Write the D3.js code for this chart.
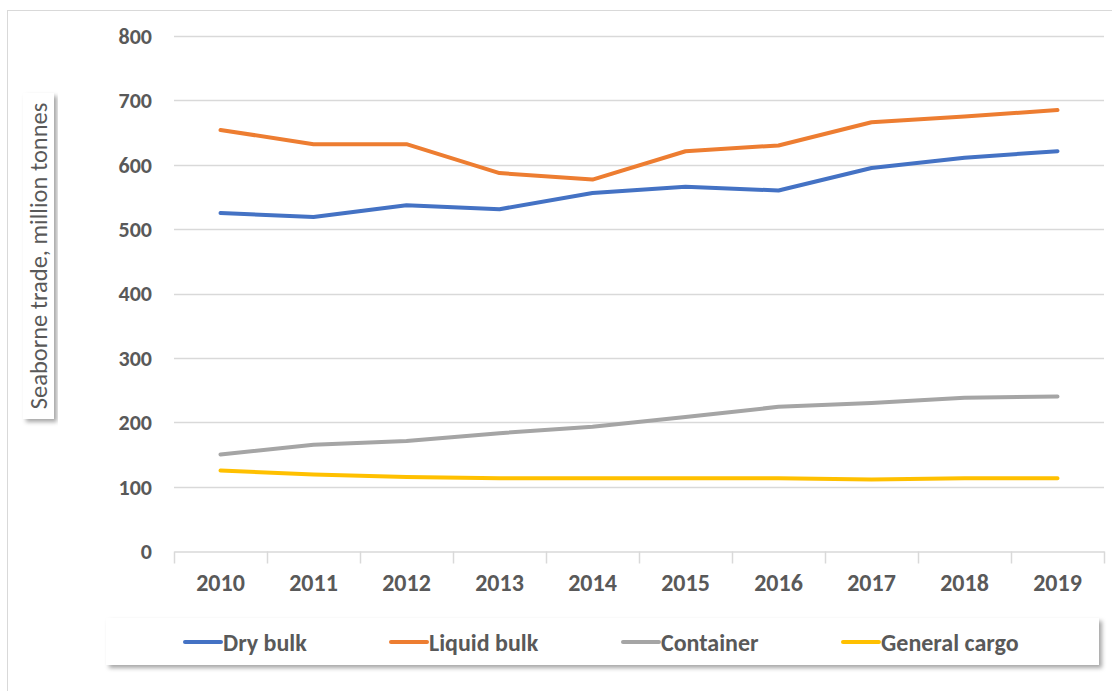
<!DOCTYPE html>
<html>
<head>
<meta charset="utf-8">
<script src="https://cdn.jsdelivr.net/npm/d3@7"></script>
<style>
  body { margin: 0; background: #fff; }
  svg { display: block; }
  text { font-family: Carlito, Lato, "Open Sans", sans-serif; fill: #595959; }
</style>
</head>
<body>
<svg></svg>
<script>
//--Data
const years = ["2010", "2011", "2012", "2013", "2014", "2015", "2016", "2017", "2018", "2019"];
const dryBulk = [525, 519, 537, 531, 556, 566, 560, 595, 611, 621];
const liquidBulk = [654, 632, 632, 587, 577, 621, 630, 666, 675, 685];
const container = [150, 165, 171, 183, 193, 208, 224, 230, 238, 240];
const generalCargo = [125, 119, 115, 113, 113, 113, 113, 111, 113, 113];
const seriesNames = ["Dry bulk", "Liquid bulk", "Container", "General cargo"];
const seriesColors = ["#4472C4", "#ED7D31", "#A5A5A5", "#FFC000"];
const yTicks = [0, 100, 200, 300, 400, 500, 600, 700, 800];

const series = [dryBulk, liquidBulk, container, generalCargo].map((v, i) => ({
  name: seriesNames[i], color: seriesColors[i], values: v
}));

//--Canvas
const W = 1112, H = 691;
const plot = { left: 174, right: 1104, top: 36, bottom: 551 };

const root = d3.select("svg").attr("width", W).attr("height", H);

const defs = root.append("defs");
const shadow = defs.append("filter").attr("id", "shadow")
  .attr("x", "-5%").attr("y", "-20%").attr("width", "115%").attr("height", "160%");
shadow.append("feDropShadow")
  .attr("dx", 3).attr("dy", 3).attr("stdDeviation", 2)
  .attr("flood-color", "#000").attr("flood-opacity", 0.35);

//Outer chart border
root.append("rect")
  .attr("x", 7.5).attr("y", 10.5)
  .attr("width", W).attr("height", H)
  .attr("fill", "none").attr("stroke", "#D9D9D9");

//--Scales
const x = d3.scaleBand().domain(years).range([plot.left, plot.right]);
const y = d3.scaleLinear().domain([0, 800]).range([plot.bottom, plot.top]);

//Gridlines
root.append("g")
  .selectAll("line")
  .data(yTicks.filter(d => d > 0))
  .join("line")
  .attr("x1", plot.left).attr("x2", plot.right)
  .attr("y1", d => Math.round(y(d)) + 0.5).attr("y2", d => Math.round(y(d)) + 0.5)
  .attr("stroke", "#D9D9D9").attr("stroke-width", 1.5);

//Y axis labels
root.append("g")
  .selectAll("text")
  .data(yTicks)
  .join("text")
  .attr("x", 152)
  .attr("y", d => y(d))
  .attr("dy", "0.36em")
  .attr("text-anchor", "end")
  .style("font-size", "22px")
  .style("font-weight", "bold")
  .text(d => d);

//X axis
const xAxis = root.append("g")
  .attr("transform", "translate(0," + (Math.round(plot.bottom) + 0.5) + ")")
  .call(d3.axisBottom(x).tickSizeInner(0).tickSizeOuter(0).tickPadding(22));
xAxis.select(".domain").attr("stroke", "#D9D9D9").attr("stroke-width", 1.5);
xAxis.selectAll(".tick line").remove();
xAxis.selectAll(".tick text")
  .style("font-size", "24px")
  .style("font-weight", "bold")
  .attr("fill", "#595959");
xAxis.selectAll(".sep")
  .data(d3.range(years.length + 1))
  .join("line")
  .attr("x1", i => Math.round(plot.left + i * x.step()) + 0.5)
  .attr("x2", i => Math.round(plot.left + i * x.step()) + 0.5)
  .attr("y1", 0).attr("y2", 12)
  .attr("stroke", "#D9D9D9").attr("stroke-width", 1.5);

//--Lines
const line = d3.line()
  .x((d, i) => x(years[i]) + x.bandwidth() / 2)
  .y(d => y(d));

root.append("g")
  .selectAll("path")
  .data(series)
  .join("path")
  .attr("d", d => line(d.values))
  .attr("fill", "none")
  .attr("stroke", d => d.color)
  .attr("stroke-width", 4)
  .attr("stroke-linejoin", "round")
  .attr("stroke-linecap", "round");

//--Y axis title box
const yTitle = root.append("g");
yTitle.append("rect")
  .attr("x", 23).attr("y", 93)
  .attr("width", 31).attr("height", 326)
  .attr("fill", "#fff")
  .attr("filter", "url(#shadow)");
yTitle.append("text")
  .attr("transform", "translate(47,256) rotate(-90)")
  .attr("text-anchor", "middle")
  .style("font-size", "24.5px")
  .text("Seaborne trade, million tonnes");

//--Legend
const legend = root.append("g");
legend.append("rect")
  .attr("x", 106).attr("y", 618)
  .attr("width", 993).attr("height", 47)
  .attr("fill", "#fff")
  .attr("filter", "url(#shadow)");
const legendX = [185, 391, 623, 843];
const items = legend.selectAll("g.item")
  .data(series)
  .join("g")
  .classed("item", true)
  .attr("transform", (d, i) => "translate(" + legendX[i] + ",642)");
items.append("line")
  .attr("x1", 0).attr("x2", 36)
  .attr("stroke", d => d.color)
  .attr("stroke-width", 4)
  .attr("stroke-linecap", "round");
items.append("text")
  .attr("x", 38)
  .attr("dy", "0.36em")
  .style("font-size", "24px")
  .style("font-weight", "bold")
  .text(d => d.name);
</script>
</body>
</html>
